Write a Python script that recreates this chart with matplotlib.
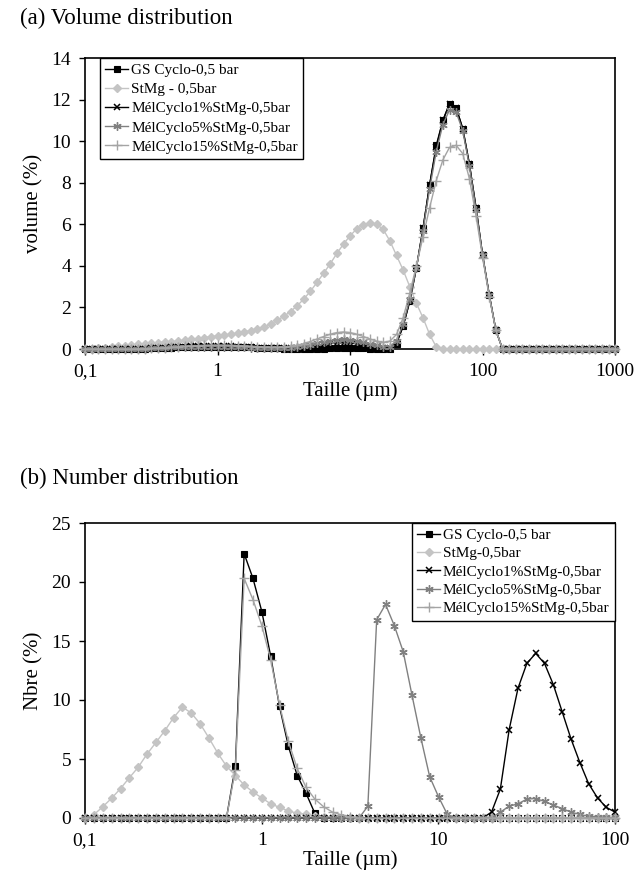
import matplotlib
matplotlib.use("Agg")
import matplotlib.pyplot as plt
from matplotlib.ticker import FixedLocator, NullLocator

plt.rcParams['font.family'] = ['Liberation Serif', 'DejaVu Serif']

# ---------------- data ----------------
# particle size bins (µm) of the laser granulometer
size_a = [0.100, 0.112, 0.126, 0.142, 0.159, 0.178, 0.200, 0.224, 0.252, 0.283,
          0.317, 0.356, 0.399, 0.448, 0.502, 0.564, 0.632, 0.710, 0.796, 0.893,
          1.002, 1.125, 1.262, 1.416, 1.589, 1.783, 2.000, 2.244, 2.518, 2.825,
          3.170, 3.557, 3.991, 4.477, 5.024, 5.637, 6.325, 7.096, 7.962, 8.934,
          10.024, 11.247, 12.619, 14.159, 15.887, 17.825, 20.000, 22.440, 25.179, 28.251,
          31.698, 35.566, 39.905, 44.774, 50.238, 56.368, 63.246, 70.963, 79.621, 89.337,
          100.237, 112.468, 126.191, 141.589, 158.866, 178.250, 200.000, 224.404, 251.785, 282.508,
          316.979, 355.656, 399.052, 447.744, 502.377, 563.677, 632.456, 709.627, 796.214, 893.367,
          1000.0]
size_b = size_a[:60] + [100.0]

labels_a = ["GS Cyclo-0,5 bar", "StMg - 0,5bar", "MélCyclo1%StMg-0,5bar",
            "MélCyclo5%StMg-0,5bar", "MélCyclo15%StMg-0,5bar"]
labels_b = ["GS Cyclo-0,5 bar", "StMg-0,5bar", "MélCyclo1%StMg-0,5bar",
            "MélCyclo5%StMg-0,5bar", "MélCyclo15%StMg-0,5bar"]

# (a) volume distribution (%)
gs_vol = [0, 0, 0, 0, 0, 0, 0, 0, 0.01, 0.02, 0.03, 0.04, 0.05, 0.07, 0.08, 0.09, 0.10, 0.11, 0.12, 0.12,
          0.12, 0.12, 0.11, 0.10, 0.09, 0.08, 0.06, 0.05, 0.04, 0.03, 0.02, 0.02, 0.01, 0.01, 0.01, 0.01, 0.02, 0.03, 0.04, 0.05,
          0.05, 0.04, 0.03, 0.02, 0.01, 0, 0, 0.25, 1.1, 2.3, 3.9, 5.8, 7.9, 9.8, 11.0, 11.8, 11.6, 10.6, 8.9, 6.8,
          4.5, 2.6, 0.9, 0, 0, 0, 0, 0, 0, 0, 0, 0, 0, 0, 0, 0, 0, 0, 0, 0,
          0]
stmg_vol = [0.00, 0.02, 0.04, 0.07, 0.10, 0.13, 0.16, 0.19, 0.22, 0.25, 0.28, 0.31, 0.33, 0.35, 0.38, 0.42, 0.46, 0.50, 0.55, 0.59,
            0.63, 0.67, 0.71, 0.76, 0.82, 0.89, 0.97, 1.07, 1.20, 1.38, 1.58, 1.80, 2.08, 2.40, 2.78, 3.20, 3.65, 4.10, 4.60, 5.05,
            5.45, 5.78, 5.98, 6.07, 6.00, 5.75, 5.20, 4.50, 3.80, 3.00, 2.20, 1.50, 0.70, 0.10, 0, 0, 0, 0, 0, 0,
            0, 0, 0, 0, 0, 0, 0, 0, 0, 0, 0, 0, 0, 0, 0, 0, 0, 0, 0, 0,
            0]
mel1_vol = [0, 0, 0, 0, 0, 0, 0, 0, 0.01, 0.02, 0.04, 0.05, 0.07, 0.09, 0.11, 0.12, 0.13, 0.14, 0.15, 0.15,
            0.15, 0.14, 0.13, 0.12, 0.10, 0.08, 0.06, 0.05, 0.04, 0.03, 0.03, 0.04, 0.06, 0.09, 0.13, 0.17, 0.22, 0.26, 0.29, 0.30,
            0.29, 0.25, 0.20, 0.14, 0.09, 0.05, 0.05, 0.3, 1.1, 2.3, 3.9, 5.8, 7.9, 9.7, 11.0, 11.8, 11.6, 10.6, 8.9, 6.8,
            4.5, 2.6, 0.9, 0, 0, 0, 0, 0, 0, 0, 0, 0, 0, 0, 0, 0, 0, 0, 0, 0,
            0]
mel5_vol = [0, 0, 0, 0, 0, 0, 0, 0, 0.01, 0.02, 0.03, 0.05, 0.06, 0.08, 0.09, 0.10, 0.11, 0.12, 0.12, 0.12,
            0.12, 0.12, 0.11, 0.10, 0.09, 0.07, 0.06, 0.05, 0.04, 0.04, 0.05, 0.07, 0.10, 0.14, 0.20, 0.27, 0.34, 0.40, 0.44, 0.46,
            0.44, 0.39, 0.32, 0.24, 0.17, 0.12, 0.12, 0.4, 1.2, 2.4, 3.9, 5.7, 7.7, 9.5, 10.8, 11.5, 11.4, 10.5, 8.8, 6.7,
            4.5, 2.6, 0.9, 0, 0, 0, 0, 0, 0, 0, 0, 0, 0, 0, 0, 0, 0, 0, 0, 0,
            0]
mel15_vol = [0, 0, 0, 0, 0, 0, 0, 0, 0.01, 0.02, 0.03, 0.05, 0.07, 0.09, 0.11, 0.13, 0.15, 0.16, 0.17, 0.18,
             0.18, 0.18, 0.17, 0.16, 0.15, 0.13, 0.11, 0.10, 0.09, 0.09, 0.10, 0.13, 0.18, 0.26, 0.36, 0.48, 0.60, 0.71, 0.79, 0.82,
             0.79, 0.71, 0.60, 0.48, 0.38, 0.32, 0.38, 0.70, 1.50, 2.70, 4.00, 5.40, 6.80, 8.10, 9.10, 9.70, 9.80, 9.40, 8.20, 6.40,
             4.4, 2.5, 0.9, 0, 0, 0, 0, 0, 0, 0, 0, 0, 0, 0, 0, 0, 0, 0, 0, 0,
             0]

# (b) number distribution (%)
gs_num = [0, 0, 0, 0, 0, 0, 0, 0, 0, 0, 0, 0, 0, 0, 0, 0, 0, 4.4, 22.4, 20.3,
          17.5, 13.7, 9.45, 6.1, 3.6, 2.1, 0.4, 0, 0, 0, 0, 0, 0, 0, 0, 0, 0, 0, 0, 0,
          0, 0, 0, 0, 0, 0, 0, 0, 0, 0, 0, 0, 0, 0, 0, 0, 0, 0, 0, 0,
          0]
stmg_num = [0.0, 0.27, 0.95, 1.7, 2.5, 3.4, 4.3, 5.4, 6.4, 7.4, 8.5, 9.4, 8.9, 8.0, 6.8, 5.5, 4.4, 3.6, 2.8, 2.2,
            1.7, 1.2, 0.9, 0.6, 0.4, 0.33, 0.2, 0.1, 0.05, 0, 0, 0, 0, 0, 0, 0, 0, 0, 0, 0,
            0, 0, 0, 0, 0, 0, 0, 0, 0, 0, 0, 0, 0, 0, 0, 0, 0, 0, 0, 0,
            0]
mel1_num = [0, 0, 0, 0, 0, 0, 0, 0, 0, 0, 0, 0, 0, 0, 0, 0, 0, 0, 0, 0,
            0, 0, 0, 0, 0, 0, 0, 0, 0, 0, 0, 0, 0, 0, 0, 0, 0, 0, 0, 0,
            0, 0, 0, 0, 0, 0, 0.5, 2.45, 7.5, 11.0, 13.1, 13.95, 13.1, 11.3, 9.0, 6.7, 4.7, 2.9, 1.7, 0.9,
            0.5]
mel5_num = [0, 0, 0, 0, 0, 0, 0, 0, 0, 0, 0, 0, 0, 0, 0, 0, 0, 0, 0, 0,
            0, 0, 0, 0, 0, 0, 0, 0, 0, 0, 0, 0, 1.0, 16.8, 18.1, 16.3, 14.1, 10.4, 6.8, 3.5,
            1.8, 0.3, 0, 0, 0, 0, 0, 0.5, 1.0, 1.2, 1.6, 1.65, 1.4, 1.1, 0.8, 0.5, 0.3, 0.15, 0.1, 0.05,
            0.05]
mel15_num = [0, 0, 0, 0, 0, 0, 0, 0, 0, 0, 0, 0, 0, 0, 0, 0, 0, 4.1, 20.3, 18.5,
             16.3, 13.4, 9.6, 6.5, 4.2, 2.6, 1.6, 0.95, 0.5, 0.27, 0.1, 0, 0, 0, 0, 0, 0, 0, 0, 0,
             0, 0, 0, 0, 0, 0, 0, 0, 0, 0, 0, 0, 0, 0, 0, 0, 0, 0, 0, 0,
             0]

xticks_a = [0.1, 1, 10, 100, 1000]
xlabels_a = ["0,1", "1", "10", "100", "1000"]
xticks_b = [0.1, 1, 10, 100]
xlabels_b = ["0,1", "1", "10", "100"]
yticks_a = [0, 2, 4, 6, 8, 10, 12, 14]
yticks_b = [0, 5, 10, 15, 20, 25]

# ---------------- styles ----------------
styles = [
    dict(color='black', marker='s', ms=4.5, mfc='black', mec='black', mew=0.8),
    dict(color='#c4c4c4', marker='D', ms=4.5, mfc='#c4c4c4', mec='#c4c4c4'),
    dict(color='black', marker='x', ms=5, mew=1.1),
    dict(color='#808080', marker=(6, 2, 0), ms=6, mew=1.0),
    dict(color='#a4a4a4', marker='+', ms=7, mew=1.0),
]

fig = plt.figure(figsize=(6.4, 8.76), dpi=100)
ax1 = fig.add_axes([85/640, 1-349/876, 530/640, 291/876])
ax2 = fig.add_axes([85/640, 1-818/876, 530/640, 295/876])

def draw(ax, x, series, labels, xticks, xlabels, yticks, ylim, xlim, ylabel,
         legloc, legbbox, legfs, legspace):
    for ys, lab, st in zip(series, labels, styles):
        ax.plot(x, ys, lw=1.0, label=lab, clip_on=False, **st)
    ax.set_xscale('log')
    ax.set_xlim(*xlim)
    ax.set_ylim(*ylim)
    ax.xaxis.set_major_locator(FixedLocator(xticks))
    ax.xaxis.set_minor_locator(NullLocator())
    ax.set_xticklabels(xlabels)
    ax.set_yticks(yticks)
    ax.tick_params(axis='both', labelsize=14, direction='out', length=4, width=1, pad=6)
    for sp in ax.spines.values():
        sp.set_linewidth(1.2)
        sp.set_zorder(1)
    ax.set_xlabel("Taille (µm)", fontsize=15, labelpad=1)
    ax.set_ylabel(ylabel, fontsize=15, labelpad=6)
    leg = ax.legend(loc=legloc, bbox_to_anchor=legbbox, borderaxespad=0, fontsize=legfs,
                    frameon=True, fancybox=False, edgecolor='black', framealpha=1,
                    handlelength=1.5, handletextpad=0.2, labelspacing=legspace, borderpad=0.35)
    leg.get_frame().set_linewidth(1.0)
    leg.set_zorder(5)

draw(ax1, size_a, [gs_vol, stmg_vol, mel1_vol, mel5_vol, mel15_vol], labels_a,
     xticks_a, xlabels_a, yticks_a, (0, 14), (0.1, 1000), "volume (%)",
     'upper left', (0.028, 1.0), 11, 0.36)
draw(ax2, size_b, [gs_num, stmg_num, mel1_num, mel5_num, mel15_num], labels_b,
     xticks_b, xlabels_b, yticks_b, (0, 25), (0.1, 100), "Nbre (%)",
     'upper right', (1.0, 1.0), 11, 0.3)

fig.text(20/640, 1-18/876, "(a) Volume distribution", fontsize=16.5, va='center', ha='left')
fig.text(20/640, 1-478/876, "(b) Number distribution", fontsize=16.5, va='center', ha='left')

fig.savefig("out.png", dpi=100)
